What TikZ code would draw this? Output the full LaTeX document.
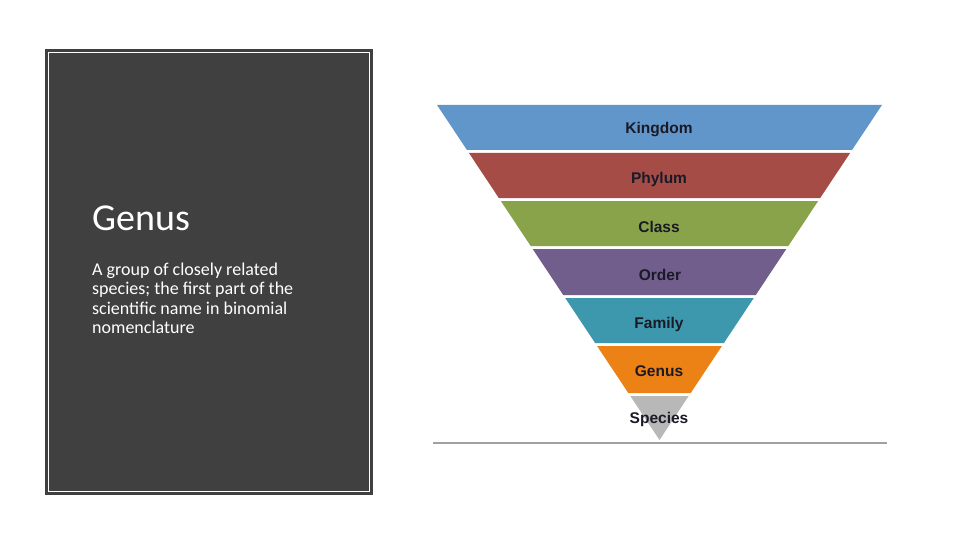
\documentclass[tikz,border=0pt]{standalone}
\usepackage{fontspec}
\setmainfont{Carlito}
\newfontfamily\labelfont{Liberation Sans}
\definecolor{panel}{HTML}{404040}
\definecolor{cKingdom}{HTML}{6096CA}
\definecolor{cPhylum}{HTML}{A64C47}
\definecolor{cClass}{HTML}{89A34B}
\definecolor{cOrder}{HTML}{725E8C}
\definecolor{cFamily}{HTML}{3D97AD}
\definecolor{cGenus}{HTML}{EC8116}
\definecolor{cSpecies}{HTML}{B8B8B8}
\definecolor{lbl}{HTML}{1A1A26}
\definecolor{baseln}{HTML}{A0A0A0}
\tikzset{
  rank/.style={font=\labelfont\bfseries\fontsize{15.5}{18}\selectfont, text=lbl, inner sep=0pt, anchor=base},
  title/.style={font=\fontsize{38}{44}\selectfont, text=white, anchor=base west, inner sep=0pt},
  body/.style={font=\fontsize{18}{19.5}\selectfont, text=white, anchor=base west, inner sep=0pt, align=left}
}
\begin{document}
\begin{tikzpicture}[x=1pt,y=-1pt]
\useasboundingbox (0,0) rectangle (960,540);
% left panel
\fill[panel] (45,49) rectangle (373,495);
\draw[white, line width=1.2pt] (48.5,52.5) rectangle (369.5,491.5);
\node[title] (ttl) at (92,230) {Genus};
\node[body] (l1) at (92,275) {A group of closely related};
\node[body] (l2) at (92,294.5) {species; the first part of the};
\node[body] (l3) at (92,314) {scientific name in binomial};
\node[body] (l4) at (92,333.5) {nomenclature};
% pyramid: apex (659.5,440), half width = 0.664*(440-y)
\foreach \t/\b/\c in {105/150/cKingdom,153/198/cPhylum,201/246/cClass,249/295/cOrder,298/343/cFamily,346/393/cGenus}{
  \fill[\c] ({659.5-0.664*(440-\t)},\t) -- ({659.5+0.664*(440-\t)},\t)
            -- ({659.5+0.664*(440-\b)},\b) -- ({659.5-0.664*(440-\b)},\b) -- cycle;
}
\fill[cSpecies] ({659.5-0.664*(440-396)},396) -- ({659.5+0.664*(440-396)},396) -- (659.5,440) -- cycle;
\draw[baseln, line width=2pt] (433,443) -- (887,443);
\node[rank] (kingdom) at (659,134) {Kingdom};
\node[rank] (phylum) at (659,183) {Phylum};
\node[rank] (class) at (659,232) {Class};
\node[rank] (order) at (660,280) {Order};
\node[rank] (family) at (659,328) {Family};
\node[rank] (genus) at (659,376) {Genus};
\node[rank] (species) at (659,423) {Species};
\end{tikzpicture}
\end{document}
